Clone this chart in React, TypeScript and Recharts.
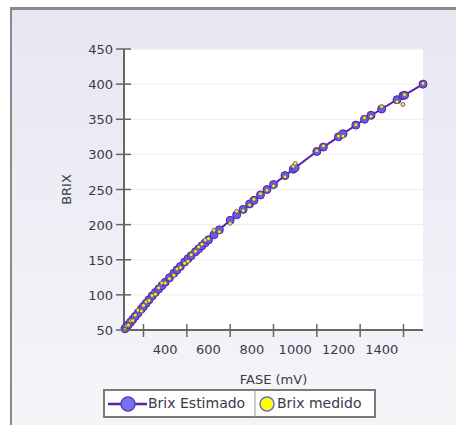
import React from 'react';
import { ComposedChart, Line, XAxis, YAxis, CartesianGrid } from 'recharts';

const fase = [
  215, 222, 230, 240, 250, 262, 275, 290, 300, 312, 325, 340, 355, 370, 385, 400,
  420, 440, 455, 470, 490, 505, 520, 540, 555, 570, 585, 600, 625, 650, 700, 730,
  760, 790, 810, 840, 870, 900, 953, 991, 1000, 1100, 1130, 1200, 1221, 1280, 1320,
  1350, 1399, 1470, 1497, 1505, 1590,
];
const brixEstimado = [
  51.9, 54.5, 57.5, 61.2, 64.9, 69.4, 74.2, 79.8, 83.6, 88.1, 92.9, 98.5, 103.5, 108.3, 113.2, 118.0,
  124.4, 130.8, 135.6, 140.4, 146.8, 151.4, 155.7, 161.4, 165.6, 169.9, 174.1, 178.4, 185.5, 192.6, 206.2, 213.9,
  221.7, 229.4, 234.6, 242.3, 250.0, 257.1, 269.8, 278.8, 281.0, 304.2, 310.4, 325.0, 329.4, 341.7, 350.0,
  355.6, 364.6, 377.8, 383.5, 384.3, 400.0,
];
const brixMedido = [
  50.5, 56, 57, 63, 63.5, 71, 78, 77, 85, 90, 92, 99, 101, 110, 117, 117,
  123, 128, 137, 139, 145, 148, 157, 162, 168, 172, 178, 180, 192, 190, 202, 219,
  220, 228, 236, 244, 249, 255, 268, 283, 287, 305, 312, 326, 326, 342, 352,
  354, 368, 375, 371, 385, 401,
];
const xTickValues = [300, 400, 500, 600, 700, 800, 900, 1000, 1100, 1200, 1300, 1400, 1500];
const xTickLabels = [400, 600, 800, 1000, 1200, 1400];
const yTickValues = [50, 100, 150, 200, 250, 300, 350, 400, 450];

const data = fase.map((f, i) => ({ fase: f, est: brixEstimado[i], med: brixMedido[i] }));

const FONT = '"DejaVu Sans", Verdana, sans-serif';
const TEXT = '#3a3a48';
const AXIS = '#666666';

function XTick(props: any) {
  const { x, y, payload } = props;
  const v = payload.value;
  if (xTickLabels.includes(v)) {
    return (
      <text x={x} y={y + 24} textAnchor="middle" fontSize={13} fill={TEXT} fontFamily={FONT}>
        {v}
      </text>
    );
  }
  return <line x1={x} x2={x} y1={y - 6} y2={y + 7} stroke={AXIS} strokeWidth={1.5} />;
}

function YTick(props: any) {
  const { x, y, payload } = props;
  const ax = x + 10;
  return (
    <g>
      <line x1={ax - 8} x2={ax + 7} y1={y} y2={y} stroke={AXIS} strokeWidth={1.5} />
      <text x={x - 1} y={y + 5} textAnchor="end" fontSize={13} fill={TEXT} fontFamily={FONT}>
        {payload.value}
      </text>
    </g>
  );
}

const YLabel = (props: any) => {
  const vb = props.viewBox;
  const cx = vb.x + 71;
  const cy = vb.y + vb.height / 2;
  return (
    <text x={cx} y={cy} transform={`rotate(-90 ${cx} ${cy})`} textAnchor="middle" fontSize={13} fill={TEXT} fontFamily={FONT}>
      BRIX
    </text>
  );
};

const XLabel = (props: any) => {
  const vb = props.viewBox;
  return (
    <text x={vb.x + vb.width / 2} y={vb.y + 54} textAnchor="middle" fontSize={13} fill={TEXT} fontFamily={FONT}>
      FASE (mV)
    </text>
  );
};

export default function App() {
  return (
    <div style={{ position: 'absolute', left: 0, top: 0, width: 456, height: 425, overflow: 'hidden', background: '#ffffff' }}>
      <div
        style={{
          position: 'absolute',
          left: 10,
          top: 7,
          width: 460,
          height: 430,
          borderLeft: '2px solid #8a8a8a',
          borderTop: '3px solid #8a8a8a',
          background: 'linear-gradient(#e7e7f2, #f5f5f9)',
        }}
      />
      <div style={{ position: 'absolute', left: 0, top: 0 }}>
        <ComposedChart width={456} height={425} data={data} margin={{ top: 49, right: 33, bottom: 65, left: 0 }}>
          <CartesianGrid horizontal={true} vertical={false} stroke="#ececec" fill="#ffffff" />
          <XAxis
            type="number"
            dataKey="fase"
            domain={[210, 1590]}
            ticks={xTickValues}
            interval={0}
            height={30}
            tickSize={0}
            tickMargin={0}
            tickLine={false}
            axisLine={{ stroke: AXIS, strokeWidth: 2 }}
            tick={<XTick />}
            label={<XLabel />}
          />
          <YAxis
            type="number"
            domain={[50, 450]}
            ticks={yTickValues}
            interval={0}
            width={124}
            tickSize={0}
            tickMargin={10}
            tickLine={false}
            axisLine={{ stroke: AXIS, strokeWidth: 2 }}
            tick={<YTick />}
            label={<YLabel />}
          />
          <Line
            type="linear"
            dataKey="est"
            stroke="#5a22a8"
            strokeWidth={2}
            dot={{ r: 4, fill: '#6f5ae8', stroke: '#4a2a9a', strokeWidth: 1 }}
            isAnimationActive={false}
          />
          <Line
            type="linear"
            dataKey="med"
            stroke="none"
            dot={{ r: 2, fill: '#f0f000', stroke: '#5a40a8', strokeWidth: 0.8 }}
            isAnimationActive={false}
          />
        </ComposedChart>
      </div>
      <div style={{ position: 'absolute', left: 103, top: 389 }}>
        <svg width={274} height={30}>
          <rect x={1} y={1} width={271} height={27} fill="#fdfdfd" stroke="#7a7a7a" strokeWidth={2} />
          <line x1={152} x2={152} y1={1} y2={28} stroke="#9a9a9a" strokeWidth={1} />
          <line x1={5} x2={44} y1={15} y2={15} stroke="#5a22a8" strokeWidth={2.5} />
          <circle cx={25} cy={15} r={7} fill="#7b70f5" stroke="#5a3ec0" strokeWidth={1.5} />
          <text x={45} y={19} fontSize={14} fill={TEXT} fontFamily={FONT}>Brix Estimado</text>
          <circle cx={164} cy={15} r={7} fill="#ffff00" stroke="#6a6ad0" strokeWidth={1.5} />
          <text x={174} y={19} fontSize={14} fill={TEXT} fontFamily={FONT}>Brix medido</text>
        </svg>
      </div>
    </div>
  );
}
